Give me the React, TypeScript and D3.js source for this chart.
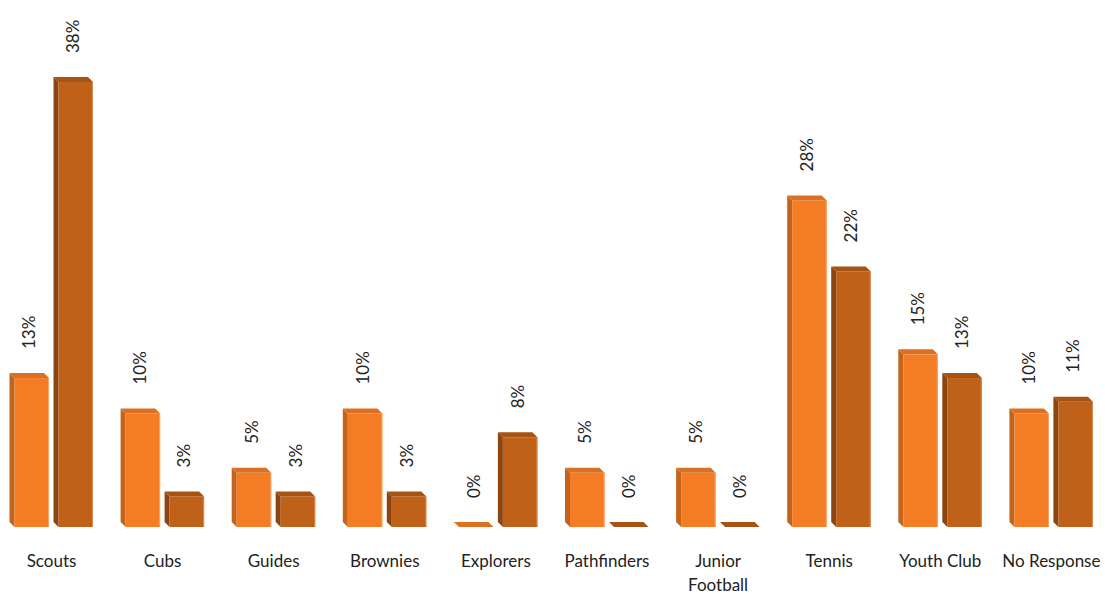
import { useEffect, useRef } from "react";
import * as d3 from "d3";

const categories = [
  "Scouts",
  "Cubs",
  "Guides",
  "Brownies",
  "Explorers",
  "Pathfinders",
  "Junior Football",
  "Tennis",
  "Youth Club",
  "No Response",
];
// tick labels, one entry per line
const tickLabels = [
  ["Scouts"],
  ["Cubs"],
  ["Guides"],
  ["Brownies"],
  ["Explorers"],
  ["Pathfinders"],
  ["Junior", "Football"],
  ["Tennis"],
  ["Youth Club"],
  ["No Response"],
];
const seriesA = [13, 10, 5, 10, 0, 5, 5, 28, 15, 10];
const seriesB = [38, 3, 3, 3, 8, 0, 0, 22, 13, 11];

const W = 1105;
const H = 594;
const BASE = 527;
const DEPTH = 5;
const FONT = "Lato, 'Open Sans', 'DejaVu Sans', sans-serif";

const palettes = [
  { front: "#F47C24", side: "#C4641B", top: "#DB7022", edge: "#F9A469" },
  { front: "#BF6118", side: "#8C4410", top: "#A65313", edge: "#D98A4E" },
];

export default function App() {
  const svgRef = useRef<SVGSVGElement | null>(null);

  useEffect(() => {
    const svg = d3.select(svgRef.current);
    svg.selectAll("*").remove();

    const x = d3.scaleBand<string>().domain(categories).range([-0.5, 1110.5]);
    const inner = d3
      .scaleBand<string>()
      .domain(["a", "b"])
      .range([10, 93.5])
      .paddingInner(0.102);
    const y = d3.scaleLinear().domain([0, 38]).range([BASE, 77]);

    const series = [seriesA, seriesB];
    const keys = ["a", "b"];

    series.forEach((vals, si) => {
      const pal = palettes[si];
      const g = svg.append("g");
      vals.forEach((v, i) => {
        const bx = (x(categories[i]) ?? 0) + (inner(keys[si]) ?? 0);
        const bw = inner.bandwidth();
        const fx = bx + DEPTH;
        const fr = bx + bw;
        const topTop = Math.min(y(v), BASE - DEPTH);
        const frontTop = topTop + DEPTH;

        if (frontTop < BASE) {
          // side face
          g.append("path")
            .attr(
              "d",
              `M${fx},${frontTop} L${bx},${topTop} L${bx},${BASE - DEPTH} L${fx},${BASE} Z`
            )
            .attr("fill", pal.side);
          // front face
          g.append("rect")
            .attr("x", fx)
            .attr("y", frontTop)
            .attr("width", fr - fx)
            .attr("height", BASE - frontTop)
            .attr("fill", pal.front);
          g.append("line")
            .attr("x1", fr - 0.5)
            .attr("x2", fr - 0.5)
            .attr("y1", frontTop)
            .attr("y2", BASE)
            .attr("stroke", pal.edge)
            .attr("stroke-width", 1);
        }
        // top face
        g.append("path")
          .attr(
            "d",
            `M${fx},${frontTop} L${bx},${topTop} L${fr - DEPTH},${topTop} L${fr},${frontTop} Z`
          )
          .attr("fill", pal.top);

        // value label
        const cx = bx + bw / 2;
        const ly = topTop - 24;
        g.append("text")
          .attr("transform", `translate(${cx},${ly}) rotate(-90)`)
          .attr("dy", "0.36em")
          .attr("text-anchor", "start")
          .attr("font-family", FONT)
          .attr("font-size", 17)
          .attr("fill", "#222")
          .text(`${v}%`);
      });
    });

    // category labels
    const lab = svg.append("g");
    categories.forEach((c, i) => {
      const t = lab
        .append("text")
        .attr("x", (x(c) ?? 0) + 52)
        .attr("y", 567)
        .attr("text-anchor", "middle")
        .attr("font-family", FONT)
        .attr("font-size", 17)
        .attr("fill", "#222");
      tickLabels[i].forEach((line, li) => {
        t.append("tspan")
          .attr("x", (x(c) ?? 0) + 52)
          .attr("dy", li === 0 ? 0 : 24)
          .text(line);
      });
    });
  }, []);

  return (
    <div style={{ position: "fixed", left: 0, top: 0, width: W, height: H, background: "#fff" }}>
      <svg ref={svgRef} width={W} height={H} viewBox={`0 0 ${W} ${H}`} />
    </div>
  );
}
